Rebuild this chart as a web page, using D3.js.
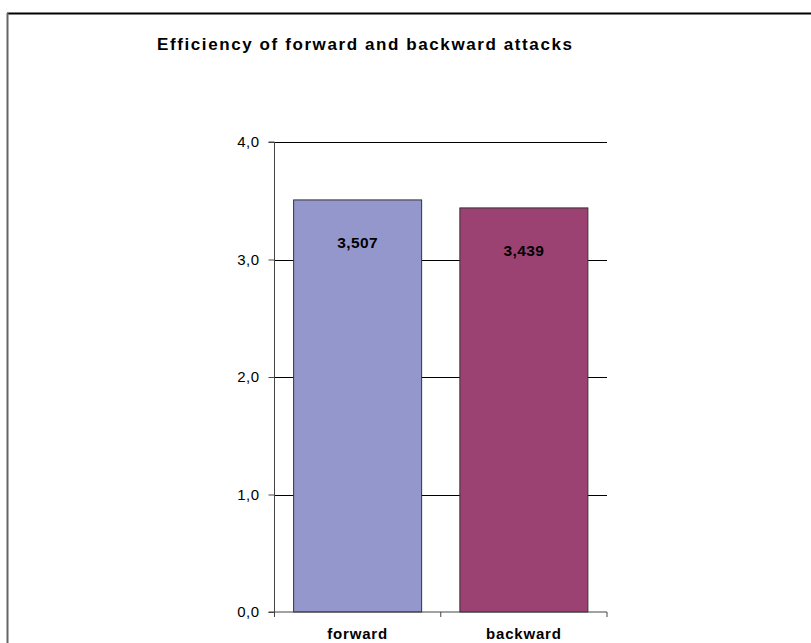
<!DOCTYPE html>
<html>
<head>
<meta charset="utf-8">
<script src="https://cdn.jsdelivr.net/npm/d3@7"></script>
<style>
  body { margin: 0; background: #fff; }
  text { font-family: "Liberation Sans", Arial, sans-serif; fill: #000; }
</style>
</head>
<body>
<div id="chart"></div>
<script>
// data
var categories = ["forward", "backward"];
var values = [3.507, 3.439];
var barColors = ["#9497cb", "#9b4272"];
var yTicks = [0, 1, 2, 3, 4];
var chartTitle = "Efficiency of forward and backward attacks";

var svgWidth = 811, svgHeight = 643;
var margin = {top: 142, right: 204, bottom: 31, left: 274.5};
var width = svgWidth - margin.left - margin.right;
var height = svgHeight - margin.top - margin.bottom;

var svg = d3.select("#chart").append("svg")
    .attr("width", svgWidth)
    .attr("height", svgHeight);

// outer chart frame (only top and left edges are on screen)
svg.append("line")
    .attr("x1", 7).attr("x2", svgWidth).attr("y1", 13.5).attr("y2", 13.5)
    .attr("stroke", "#000").attr("stroke-width", 2);
svg.append("line")
    .attr("x1", 7.5).attr("x2", 7.5).attr("y1", 13).attr("y2", svgHeight)
    .attr("stroke", "#666").attr("stroke-width", 2);

// title
svg.append("text")
    .attr("x", 157).attr("y", 50)
    .attr("font-size", 17).attr("font-weight", "bold")
    .attr("textLength", 415).attr("lengthAdjust", "spacing")
    .text(chartTitle);

var g = svg.append("g")
    .attr("transform", `translate(${margin.left}, ${margin.top})`);

var x = d3.scaleBand()
    .domain(categories)
    .range([0, width])
    .paddingInner(0.23)
    .paddingOuter(0.115);

var y = d3.scaleLinear()
    .domain([0, 4])
    .range([height, 0]);

// gridlines
g.append("g")
    .selectAll("line")
    .data(yTicks.filter(d => d > 0))
    .enter()
    .append("line")
    .attr("x1", 0).attr("x2", width)
    .attr("y1", d => Math.round(y(d)) + 0.5)
    .attr("y2", d => Math.round(y(d)) + 0.5)
    .attr("stroke", "#000")
    .attr("stroke-width", 1);

// bars
g.selectAll("rect.bar")
    .data(values)
    .enter()
    .append("rect")
    .attr("class", "bar")
    .attr("x", (d, i) => x(categories[i]))
    .attr("y", d => y(d))
    .attr("width", x.bandwidth())
    .attr("height", d => height - y(d))
    .attr("fill", (d, i) => barColors[i])
    .attr("stroke", "#333")
    .attr("stroke-width", 1);

// value labels
g.selectAll("text.val")
    .data(values)
    .enter()
    .append("text")
    .attr("class", "val")
    .attr("x", (d, i) => x(categories[i]) + x.bandwidth() / 2)
    .attr("y", d => y(d) + 48)
    .attr("text-anchor", "middle")
    .attr("font-size", 15.5)
    .attr("font-weight", "bold")
    .attr("letter-spacing", 0.4)
    .attr("fill", "#111")
    .text(d => d3.format(".3f")(d).replace(".", ","));

// y axis
var leftAxis = d3.axisLeft(y)
    .tickValues(yTicks)
    .tickSize(6)
    .tickPadding(9)
    .tickFormat(d => d3.format(".1f")(d).replace(".", ","));

var yAxis = g.append("g").call(leftAxis);
yAxis.select(".domain").attr("stroke", "#444").attr("d", `M-6,0H0V${height}H-6`);
yAxis.selectAll(".tick line").attr("stroke", "#444");
yAxis.selectAll(".tick text")
    .attr("font-size", 15)
    .attr("letter-spacing", 0.5)
    .attr("font-family", "'Liberation Sans', Arial, sans-serif")
    .attr("fill", "#000");

// x axis: ticks at category boundaries
var bottomAxis = d3.axisBottom(x).tickSize(0).tickPadding(16);
var xAxis = g.append("g")
    .attr("transform", `translate(0, ${height})`)
    .call(bottomAxis);
xAxis.select(".domain").attr("stroke", "#444").attr("d", `M0,0H${width}`);
xAxis.selectAll(".tick text")
    .attr("font-size", 15)
    .attr("font-weight", "bold")
    .attr("letter-spacing", 0.8)
    .attr("font-family", "'Liberation Sans', Arial, sans-serif")
    .attr("fill", "#000");

g.append("g")
    .selectAll("line")
    .data([0, 1, 2])
    .enter()
    .append("line")
    .attr("x1", d => d * width / 2).attr("x2", d => d * width / 2)
    .attr("y1", height).attr("y2", height + 5)
    .attr("stroke", "#444");
</script>
</body>
</html>
